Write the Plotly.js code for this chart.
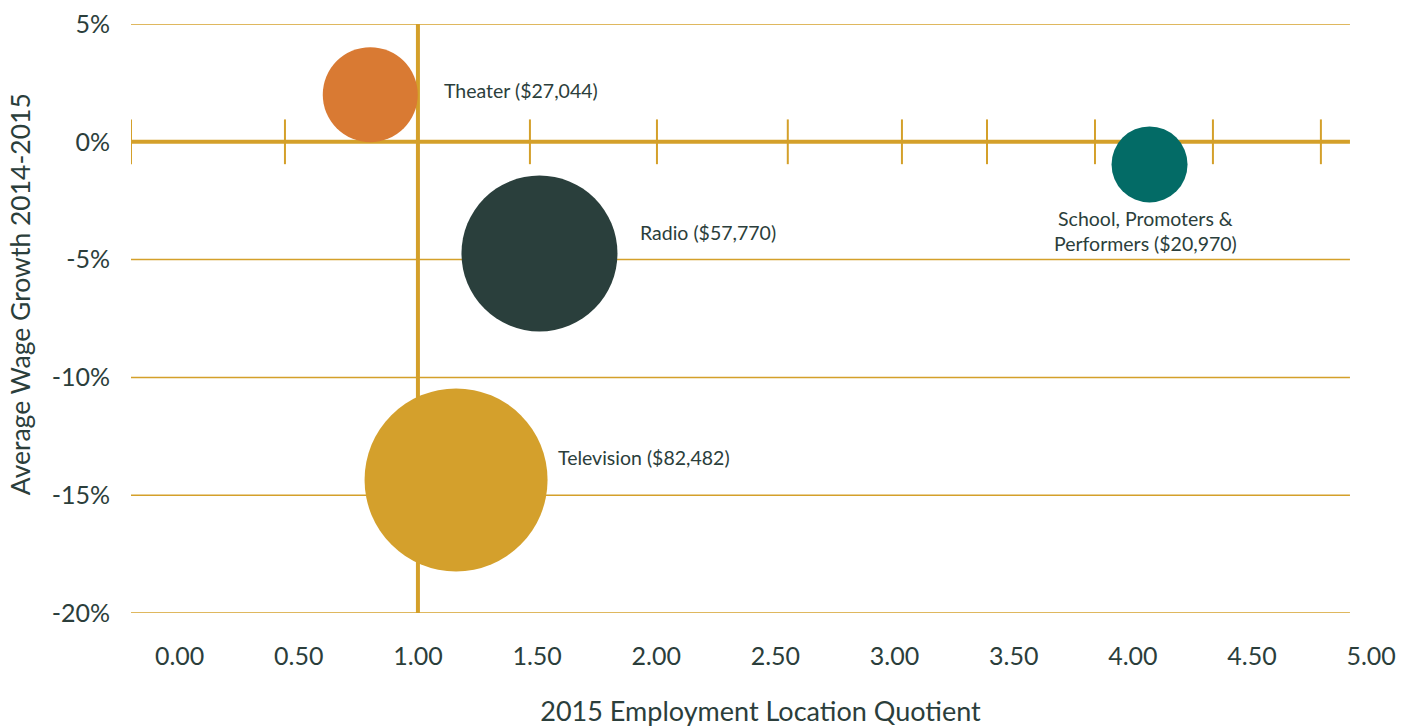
<!DOCTYPE html>
<html>
<head>
<meta charset="utf-8">
<script src="https://cdn.plot.ly/plotly-3.0.1.min.js"></script>
<style>
  html, body { margin: 0; padding: 0; background: #ffffff; }
  #chart { width: 1413px; height: 727px; }
</style>
</head>
<body>
<div id="chart"></div>
<script>
// ---- data ----
const categories = ['Theater', 'Radio', 'Television', 'School, Promoters &<br>Performers'];
const avgWages = ['$27,044', '$57,770', '$82,482', '$20,970'];
const locationQuotient = [0.80, 1.51, 1.16, 4.07];
const wageGrowth = [2.0, -4.74, -14.35, -0.96];
const bubbleSize = [95, 156, 183, 76];
const bubbleColors = ['#D97A33', '#2A3F3C', '#D4A02C', '#036B66'];

const xTickVals = [0, 0.5, 1, 1.5, 2, 2.5, 3, 3.5, 4, 4.5, 5];
const xTickLabels = ['0.00', '0.50', '1.00', '1.50', '2.00', '2.50', '3.00', '3.50', '4.00', '4.50', '5.00'];
const yTickVals = [-20, -15, -10, -5, 0, 5];
const yTickLabels = ['-20%', '-15%', '-10%', '-5%', '0%', '5%'];
const zeroLineTicks = [-0.204, 0.442, 1.470, 2.003, 2.552, 3.031, 3.388, 3.841, 4.336, 4.789];
const xTitle = '2015 Employment Location Quotient';
const yTitle = 'Average Wage Growth 2014-2015';

// ---- styling ----
const gold = '#D4A02A';
const textColor = '#2B3E3B';
const fontFamily = "Lato, 'Open Sans', sans-serif";
const xRange = [-0.204, 5.079];
const gridEnd = 4.911;
const labelShift = [
  {xanchor: 'left', xshift: 72, yshift: 4},
  {xanchor: 'left', xshift: 99, yshift: 21},
  {xanchor: 'left', xshift: 100, yshift: 22},
  {xanchor: 'center', xshift: -4, yshift: -67}
];

const trace = {
  type: 'scatter',
  mode: 'markers',
  x: locationQuotient,
  y: wageGrowth,
  marker: {
    size: bubbleSize,
    sizemode: 'diameter',
    color: bubbleColors,
    opacity: 1,
    line: {width: 0}
  },
  hoverinfo: 'skip',
  showlegend: false,
  cliponaxis: false
};

const shapes = [];
yTickVals.forEach(v => {
  shapes.push({
    type: 'line', layer: 'below', xref: 'x', yref: 'y',
    x0: xRange[0], x1: gridEnd, y0: v, y1: v,
    line: {color: gold, width: v === 0 ? 4 : 1.5}
  });
});
shapes.push({
  type: 'line', layer: 'below', xref: 'x', yref: 'y',
  x0: 1, x1: 1, y0: -20, y1: 5,
  line: {color: gold, width: 4}
});
zeroLineTicks.forEach(t => {
  shapes.push({
    type: 'line', layer: 'below', xref: 'x', yref: 'y',
    x0: t, x1: t, y0: -0.95, y1: 0.95,
    line: {color: gold, width: 2}
  });
});

const annotations = categories.map((c, i) => ({
  xref: 'x', yref: 'y',
  x: locationQuotient[i], y: wageGrowth[i],
  text: c + ' (' + avgWages[i] + ')',
  showarrow: false,
  xanchor: labelShift[i].xanchor,
  yanchor: 'middle',
  xshift: labelShift[i].xshift,
  yshift: labelShift[i].yshift,
  align: 'center',
  font: {family: fontFamily, size: 19.5, color: textColor}
}));
annotations.push({
  xref: 'paper', yref: 'paper',
  x: -0.088, y: 0.5416,
  xanchor: 'center', yanchor: 'middle',
  textangle: -90,
  showarrow: false,
  text: yTitle,
  font: {family: fontFamily, size: 26.5, color: textColor}
});

const layout = {
  width: 1413,
  height: 727,
  margin: {l: 131, r: 23, t: 24, b: 114, pad: 0},
  paper_bgcolor: '#ffffff',
  plot_bgcolor: '#ffffff',
  font: {family: fontFamily, color: textColor},
  showlegend: false,
  xaxis: {
    range: xRange,
    tickmode: 'array',
    tickvals: xTickVals,
    ticktext: xTickLabels,
    ticks: '',
    showgrid: false,
    zeroline: false,
    showline: false,
    ticklabelstandoff: 26,
    tickfont: {family: fontFamily, size: 25, color: textColor},
    title: {text: xTitle, standoff: 33,
            font: {family: fontFamily, size: 27, color: textColor}}
  },
  yaxis: {
    range: [-20, 5],
    tickmode: 'array',
    tickvals: yTickVals,
    ticktext: yTickLabels,
    ticks: '',
    showgrid: false,
    zeroline: false,
    showline: false,
    ticklabelstandoff: 20,
    tickfont: {family: fontFamily, size: 25, color: textColor}
  },
  shapes: shapes,
  annotations: annotations,
  hovermode: false
};

Plotly.newPlot('chart', [trace], layout, {displayModeBar: false, staticPlot: true});
</script>
</body>
</html>
